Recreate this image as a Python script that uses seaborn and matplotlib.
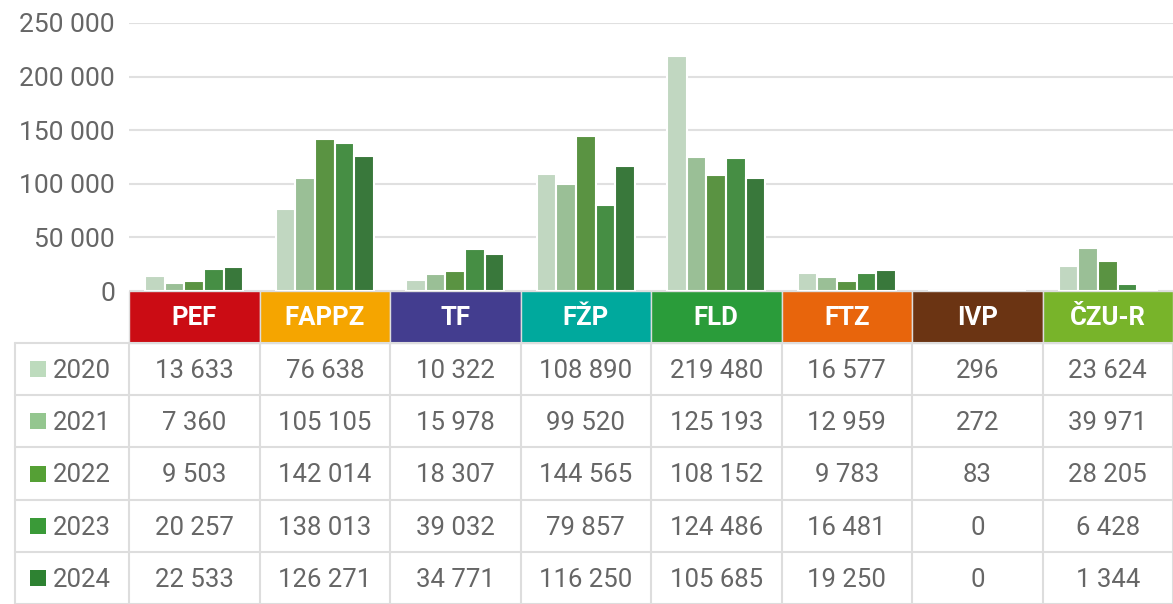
import numpy as np
import pandas as pd
import seaborn as sns
import matplotlib.pyplot as plt
from matplotlib.patches import Rectangle

faculties = ["PEF", "FAPPZ", "TF", "FŽP", "FLD", "FTZ", "IVP", "ČZU-R"]
header_colors = ["#cb0c14", "#f5a500", "#433d8f", "#00a99d", "#2a9c3a", "#e8650c", "#6b3413", "#78b42a"]
years = ["2020", "2021", "2022", "2023", "2024"]
year_colors = ["#bddbbd", "#94c68f", "#55a035", "#3a9a38", "#2e8232"]

v2020 = [13633, 76638, 10322, 108890, 219480, 16577, 296, 23624]
v2021 = [7360, 105105, 15978, 99520, 125193, 12959, 272, 39971]
v2022 = [9503, 142014, 18307, 144565, 108152, 9783, 83, 28205]
v2023 = [20257, 138013, 39032, 79857, 124486, 16481, 0, 6428]
v2024 = [22533, 126271, 34771, 116250, 105685, 19250, 0, 1344]
values = [v2020, v2021, v2022, v2023, v2024]

rows = []
for y, vals in zip(years, values):
    for f, v in zip(faculties, vals):
        rows.append({"fakulta": f, "rok": y, "hodnota": v})
df = pd.DataFrame(rows)

sns.set_style("white")
plt.rcParams["font.family"] = ["Roboto", "DejaVu Sans"]
grey = "#666666"
fs = 18.5
W, H = 1173, 604

fig = plt.figure(figsize=(W / 100, H / 100), dpi=100)

# bar chart area
x0, x1 = 129, 1173
y_top, y_zero = 23, 291
ax = fig.add_axes([x0 / W, 1 - y_zero / H, (x1 - x0) / W, (y_zero - y_top) / H])
sns.barplot(data=df, x="fakulta", y="hodnota", hue="rok", palette=year_colors,
            width=0.75, edgecolor="white", linewidth=1.5, legend=False, ax=ax)
ax.set_xlim(-0.5, len(faculties) - 0.5)
ax.set_ylim(0, 250000)
ax.set_yticks(range(0, 250001, 50000))
ax.set_yticklabels([f"{t:,}".replace(",", " ") for t in range(0, 250001, 50000)],
                   fontsize=fs + 0.5, color=grey)
ax.tick_params(axis="y", length=0, pad=10)
ax.set_xticks([])
ax.set_xlabel("")
ax.set_ylabel("")
ax.grid(axis="y", color="#e0e0e0", linewidth=1.5)
ax.set_axisbelow(True)
for s in ax.spines.values():
    s.set_visible(False)

# table area
tab = fig.add_axes([0, 0, 1, (H - y_zero) / H])
tab.set_xlim(0, W)
tab.set_ylim(H, y_zero)
tab.axis("off")

col_edges = np.linspace(x0, x1, len(faculties) + 1)
head_h = 52
row_h = (H - y_zero - head_h) / len(years)
line_c = "#dddddd"

for i, (f, c) in enumerate(zip(faculties, header_colors)):
    tab.add_patch(Rectangle((col_edges[i], y_zero), col_edges[i + 1] - col_edges[i], head_h,
                            facecolor=c, edgecolor="#dddddd", linewidth=1))
    tab.text((col_edges[i] + col_edges[i + 1]) / 2, y_zero + head_h / 2 + 1, f,
             ha="center", va="center", color="white", fontsize=fs, fontweight="bold")

t0 = y_zero + head_h
left = 15
for r in range(len(years) + 1):
    tab.plot([left, W], [t0 + r * row_h] * 2, color=line_c, linewidth=1.5)
tab.plot([left, left], [t0, H], color=line_c, linewidth=1.5)
for xe in col_edges:
    tab.plot([xe, xe], [t0, H], color=line_c, linewidth=1.5)

for r, (y, vals, c) in enumerate(zip(years, values, year_colors)):
    yc = t0 + (r + 0.5) * row_h
    tab.add_patch(Rectangle((30, yc - 8), 16, 16, facecolor=c, edgecolor="none"))
    tab.text(53, yc + 2, y, ha="left", va="center", color=grey, fontsize=fs)
    for i, v in enumerate(vals):
        tab.text((col_edges[i] + col_edges[i + 1]) / 2, yc + 2, f"{v:,}".replace(",", " "),
                 ha="center", va="center", color=grey, fontsize=fs)

fig.savefig("out.png", dpi=100)
